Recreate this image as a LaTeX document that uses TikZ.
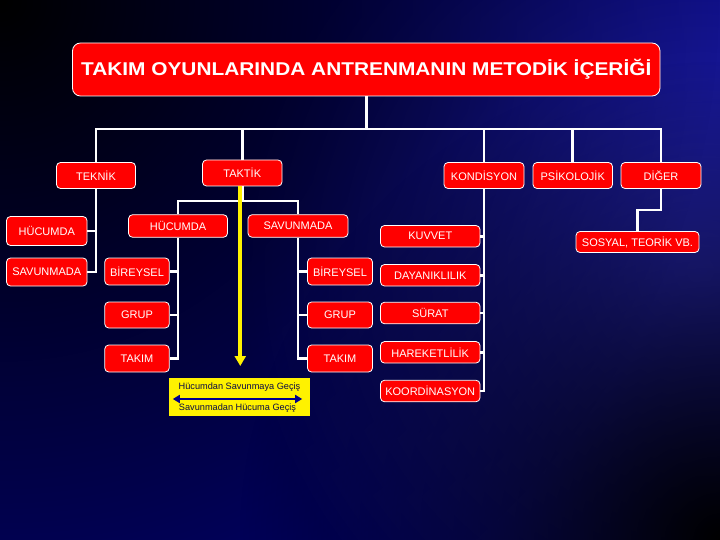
\documentclass[tikz,border=0pt]{standalone}
\usepackage{fontspec}
\usepackage{graphicx}
\setmainfont{Liberation Sans}
\usetikzlibrary{arrows.meta,calc,fadings}
\definecolor{bgbase}{RGB}{2,2,108}
\definecolor{bgbright}{RGB}{38,38,176}
\definecolor{boxred}{RGB}{255,0,0}
\definecolor{ytext}{RGB}{10,10,70}
\definecolor{yarrow}{RGB}{0,0,140}
\tikzfading[name=blobfade, inner color=transparent!0, outer color=transparent!100]
\tikzset{
  rbox/.style={draw=white, line width=0.8pt, fill=boxred, rounded corners=4pt,
    text=white, inner sep=0pt, font=\fontsize{11}{13}\selectfont},
  conn/.style={draw=white, line width=2.8pt},
  ylink/.style={draw=yellow, line width=3.6pt, -{Triangle[width=11pt,length=10pt]}},
  ylabel/.style={inner sep=0pt, text=ytext, font=\fontsize{9.2}{11}\selectfont},
}
\begin{document}
\begin{tikzpicture}[x=1pt,y=-1pt]
% background
\begin{scope}
\clip (0,0) rectangle (720,540);
\fill[bgbase] (0,0) rectangle (720,540);
\fill[bgbright, path fading=blobfade] (700,270) circle (460);
\fill[black, path fading=blobfade] (0,0) circle (720);
\fill[black, path fading=blobfade] (720,540) circle (480);
\end{scope}
\useasboundingbox (0,0) rectangle (720,540);

% title
\node[rbox, rounded corners=8pt, minimum width=587.5pt, minimum height=53pt,
  font=\fontsize{18.5}{20}\bfseries] (title) at (366.25,69.5)
  {\scalebox{1.127}[1]{TAKIM OYUNLARINDA ANTRENMANIN METODİK İÇERİĞİ}};

% level 1
\node[rbox, minimum width=79pt, minimum height=26pt] (teknik) at (96,175.5) {TEKNİK};
\node[rbox, minimum width=79.5pt, minimum height=26pt] (taktik) at (242.25,173) {TAKTİK};
\node[rbox, minimum width=80pt, minimum height=26pt] (kondisyon) at (484,175.5) {KONDİSYON};
\node[rbox, minimum width=79.5pt, minimum height=26pt] (psikolojik) at (572.75,175.5) {PSİKOLOJİK};
\node[rbox, minimum width=80pt, minimum height=26pt] (diger) at (661,175.5) {DİĞER};

% teknik children
\node[rbox, minimum width=80.5pt, minimum height=29pt] (thuc) at (46.75,231) {HÜCUMDA};
\node[rbox, minimum width=80.5pt, minimum height=28pt] (tsav) at (46.75,272) {SAVUNMADA};

% taktik children
\node[rbox, minimum width=99pt, minimum height=22.5pt] (khuc) at (178,226) {HÜCUMDA};
\node[rbox, minimum width=100pt, minimum height=22.5pt] (ksav) at (298,226) {SAVUNMADA};

\node[rbox, minimum width=64.5pt, minimum height=27pt] (bir1) at (137,271.5) {BİREYSEL};
\node[rbox, minimum width=64.5pt, minimum height=26pt] (grp1) at (137,315) {GRUP};
\node[rbox, minimum width=64.5pt, minimum height=27pt] (tkm1) at (137,358.5) {TAKIM};

\node[rbox, minimum width=65pt, minimum height=27pt] (bir2) at (340,271.5) {BİREYSEL};
\node[rbox, minimum width=65pt, minimum height=26pt] (grp2) at (340,315) {GRUP};
\node[rbox, minimum width=65pt, minimum height=27pt] (tkm2) at (340,358.5) {TAKIM};

% kondisyon children
\node[rbox, minimum width=99.5pt, minimum height=21.5pt] (kuv) at (430.25,236.25) {KUVVET};
\node[rbox, minimum width=99.5pt, minimum height=21.5pt] (day) at (430.25,275.25) {DAYANIKLILIK};
\node[rbox, minimum width=99.5pt, minimum height=21.5pt] (sur) at (430.25,313) {SÜRAT};
\node[rbox, minimum width=99.5pt, minimum height=21.5pt] (har) at (430.25,352.3) {HAREKETLİLİK};
\node[rbox, minimum width=99.5pt, minimum height=21.5pt] (koo) at (430.25,391) {KOORDİNASYON};

% diger child
\node[rbox, minimum width=123pt, minimum height=21pt] (sos) at (637.5,242) {SOSYAL, TEORİK VB.};

% yellow box
\node[fill=yellow, inner sep=0pt, minimum width=141pt, minimum height=38pt] (ybox) at (239.5,397) {};
\node[ylabel] (ytop) at ($(ybox.center)+(0,-10)$) {Hücumdan Savunmaya Geçiş};
\node[ylabel] (ybot) at ($(ybox.center)+(-2,11)$) {Savunmadan Hücuma Geçiş};
\draw[yarrow, line width=2pt, {Triangle[width=8pt,length=7pt]}-{Triangle[width=8pt,length=7pt]}]
  ([xshift=4pt,yshift=-2pt]ybox.west) -- ([xshift=-8pt,yshift=-2pt]ybox.east);

% connectors level 0 -> 1
\coordinate (bus) at (0,129);
\draw[conn] (title.south) -- (title.south |- bus);
\draw[conn] (teknik.north) -- (teknik.north |- bus) -- (diger.north |- bus) -- (diger.north);
\draw[conn] (taktik.north) -- (taktik.north |- bus);
\draw[conn] (kondisyon.north) -- (kondisyon.north |- bus);
\draw[conn] (psikolojik.north) -- (psikolojik.north |- bus);

% teknik
\draw[conn] (teknik.south) |- (thuc.east);
\draw[conn] (teknik.south) |- (tsav.east);

% taktik
\coordinate (tbus) at (0,201);
\draw[conn] (taktik.south) -- (taktik.south |- tbus);
\draw[conn] (khuc.north) -- (khuc.north |- tbus) -- (ksav.north |- tbus) -- (ksav.north);
\draw[conn] (khuc.south) |- (bir1.east);
\draw[conn] (khuc.south) |- (grp1.east);
\draw[conn] (khuc.south) |- (tkm1.east);
\draw[conn] (ksav.south) |- (bir2.west);
\draw[conn] (ksav.south) |- (grp2.west);
\draw[conn] (ksav.south) |- (tkm2.west);

% kondisyon
\draw[conn] (kondisyon.south) |- (kuv.east);
\draw[conn] (kondisyon.south) |- (day.east);
\draw[conn] (kondisyon.south) |- (sur.east);
\draw[conn] (kondisyon.south) |- (har.east);
\draw[conn] (kondisyon.south) |- (koo.east);

% diger
\coordinate (dbend) at (0,210);
\draw[conn] (diger.south) -- (diger.south |- dbend) -- (sos.north |- dbend) -- (sos.north);

% yellow transition arrow
\coordinate (ytip) at (0,366);
\draw[ylink] ([xshift=-2pt]taktik.south) -- ([xshift=-2pt]taktik.south |- ytip);
\end{tikzpicture}
\end{document}
